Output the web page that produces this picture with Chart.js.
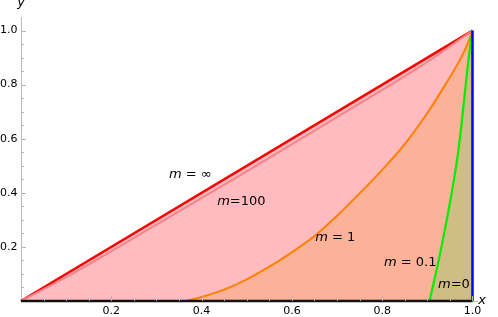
<!DOCTYPE html>
<html>
<head>
<meta charset="utf-8">
<script src="https://cdn.jsdelivr.net/npm/chart.js@4.4.1/dist/chart.umd.min.js"></script>
<style>
  html, body { margin: 0; padding: 0; background: #fff; }
  #wrap { width: 498px; height: 317px; }
</style>
</head>
<body>
<div id="wrap"><canvas id="c"></canvas></div>
<script>
// tick labels
const xTicks = [0.2, 0.4, 0.6, 0.8, 1.0];
const yTicks = [0.2, 0.4, 0.6, 0.8, 1.0];

// curves
const infX = [0, 1];
const infY = [0, 1];
const m100X = [0, 0.1, 0.3, 0.5, 0.7, 0.9, 1];
const m100Y = [0, 0.088, 0.282, 0.479, 0.68, 0.884, 1];
const m1X = [0.365, 0.4, 0.45, 0.5, 0.55, 0.6, 0.65, 0.7, 0.75, 0.8, 0.85, 0.9, 0.94, 0.97, 0.99, 1];
const m1Y = [0, 0.015, 0.042, 0.08, 0.127, 0.18, 0.24, 0.315, 0.398, 0.485, 0.58, 0.695, 0.8, 0.885, 0.953, 1];
const m01X = [0.905, 0.93, 0.956, 0.969, 0.98, 0.991, 1];
const m01Y = [0, 0.19, 0.42, 0.56, 0.72, 0.89, 1];
const m0X = [1, 1];
const m0Y = [0, 1];
const baseX = [0, 1];
const baseY = [0, 0];

// curve labels: [x, y, name, rest]
const curveLabels = [
  [0.375, 0.467, "m", " = \u221E"],
  [0.488, 0.367, "m", "=100"],
  [0.696, 0.233, "m", " = 1"],
  [0.862, 0.141, "m", " = 0.1"],
  [0.959, 0.059, "m", "=0"]
];

const pts = (xs, ys) => xs.map((x, i) => ({ x: x, y: ys[i] }));

const FONT = "'DejaVu Sans', Verdana, sans-serif";

const extras = {
  id: "extras",
  afterDatasetsDraw(chart) {
    const ctx = chart.ctx;
    const xs = chart.scales.x, ys = chart.scales.y;
    const x0 = xs.getPixelForValue(0), y0 = ys.getPixelForValue(0);
    ctx.save();
    // inward ticks
    ctx.strokeStyle = "#b5b5b5";
    ctx.lineWidth = 1;
    for (let i = 1; i <= 20; i++) {
      const v = i * 0.05;
      const len = i % 4 === 0 ? 5 : 3;
      const px = Math.round(xs.getPixelForValue(v)) + 0.5;
      const py = Math.round(ys.getPixelForValue(v)) + 0.5;
      ctx.beginPath();
      ctx.moveTo(px, y0);
      ctx.lineTo(px, y0 - len);
      ctx.moveTo(x0, py);
      ctx.lineTo(x0 + len, py);
      ctx.stroke();
    }
    // curve labels
    ctx.fillStyle = "#000";
    ctx.textBaseline = "middle";
    ctx.textAlign = "left";
    curveLabels.forEach(([vx, vy, a, b]) => {
      ctx.font = "italic 13px " + FONT;
      const wa = ctx.measureText(a).width;
      ctx.font = "13px " + FONT;
      const wb = ctx.measureText(b).width;
      const cx = xs.getPixelForValue(vx) - (wa + wb) / 2;
      const cy = ys.getPixelForValue(vy);
      ctx.font = "italic 13px " + FONT;
      ctx.fillText(a, cx, cy);
      ctx.font = "13px " + FONT;
      ctx.fillText(b, cx + wa, cy);
    });
    // axis names
    ctx.font = "italic 13px " + FONT;
    ctx.textAlign = "center";
    ctx.fillText("x", chart.chartArea.right + 5, y0);
    ctx.fillText("y", x0, 3);
    ctx.restore();
  }
};

const line = (label, data, color, width, fillColor, order) => ({
  label: label,
  data: data,
  borderColor: color,
  borderWidth: width,
  backgroundColor: fillColor || "transparent",
  fill: fillColor ? "origin" : false,
  pointRadius: 0,
  cubicInterpolationMode: "monotone",
  clip: false,
  order: order
});

new Chart(document.getElementById("c"), {
  type: "line",
  data: {
    datasets: [
      line("m = ∞", pts(infX, infY), "#ff0000", 2.6, "#ffbbbf", 6),
      line("m = 100", pts(m100X, m100Y), "#f2848c", 2, null, 5),
      line("m = 1", pts(m1X, m1Y), "#ff8000", 2, "#fbb298", 4),
      line("m = 0.1", pts(m01X, m01Y), "#00ee00", 2.2, "#cfbe84", 3),
      line("m = 0", pts(m0X, m0Y), "#0000ff", 2.5, null, 1),
      line("base", pts(baseX, baseY), "#111111", 2.5, null, 2)
    ]
  },
  options: {
    responsive: true,
    maintainAspectRatio: false,
    animation: false,
    layout: { padding: { top: 17, right: 21, bottom: 0, left: 0 } },
    plugins: {
      legend: { display: false },
      tooltip: { enabled: false }
    },
    scales: {
      x: {
        type: "linear",
        min: 0,
        max: 1.01,
        afterBuildTicks: (s) => { s.ticks = xTicks.map(v => ({ value: v })); },
        afterFit: (s) => { s.height = 16; },
        grid: { display: false, drawTicks: false },
        border: { display: true, color: "#bdbdbd", width: 1 },
        ticks: {
          autoSkip: false,
          maxRotation: 0,
          padding: 5,
          color: "#000",
          font: { family: FONT, size: 11, lineHeight: 1 },
          callback: (v) => v.toFixed(1)
        }
      },
      y: {
        type: "linear",
        min: 0,
        max: 1.05,
        afterBuildTicks: (s) => { s.ticks = yTicks.map(v => ({ value: v })); },
        afterFit: (s) => { s.width = 21; },
        grid: { display: false, drawTicks: false },
        border: { display: true, color: "#bdbdbd", width: 1 },
        ticks: {
          autoSkip: false,
          padding: 3.5,
          color: "#000",
          font: { family: FONT, size: 11 },
          callback: (v) => v.toFixed(1)
        }
      }
    }
  },
  plugins: [extras]
});
</script>
</body>
</html>
